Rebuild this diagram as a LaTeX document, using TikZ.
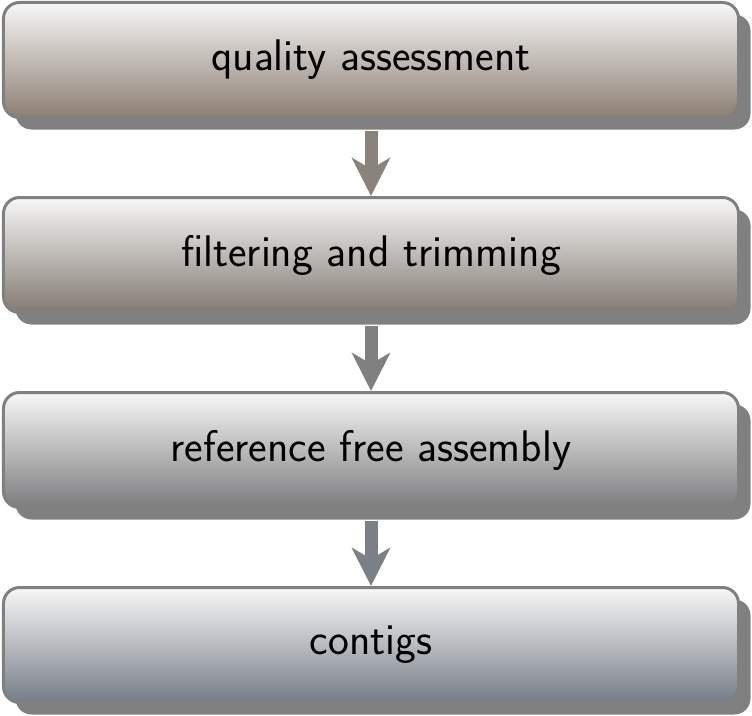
\documentclass[tikz,border=0pt]{standalone}
\usetikzlibrary{shadows,arrows.meta}

\definecolor{stepA}{RGB}{140,126,114}
\definecolor{stepB}{RGB}{130,122,114}
\definecolor{stepC}{RGB}{124,124,126}
\definecolor{stepD}{RGB}{118,125,135}
\definecolor{arrA}{RGB}{138,131,124}
\definecolor{arrB}{RGB}{128,128,128}
\definecolor{arrC}{RGB}{122,128,134}

\begin{document}
\begin{tikzpicture}[
    stagebox/.style={draw=black!50, line width=0.06cm, rounded corners=0.32cm,
      minimum width=14.7cm, minimum height=2.3cm, top color=white!97!black,
      font=\fontsize{25.2}{30}\selectfont\sffamily,
      drop shadow={shadow xshift=0.24cm, shadow yshift=-0.24cm, fill=black!50, opacity=1}},
    flow/.style={line width=0.26cm, -{Stealth[length=0.76cm, width=0.76cm, inset=0.22cm]}}]

\useasboundingbox (0,0) rectangle (15.04,-14.32);

% Stages
\node[stagebox, bottom color=stepA] (qa)  at (7.42,-1.2)  {quality assessment};
\node[stagebox, bottom color=stepB] (ft)  at (7.42,-5.1)  {filtering and trimming};
\node[stagebox, bottom color=stepC] (rfa) at (7.42,-9.0)  {reference free assembly};
\node[stagebox, bottom color=stepD] (ctg) at (7.42,-12.9) {contigs};

% Arrows between stages
\foreach \a/\b/\c in {qa/ft/arrA, ft/rfa/arrB, rfa/ctg/arrC}
  \draw[flow, \c] ([yshift=-0.24cm]\a.south) -- (\b.north);

\end{tikzpicture}
\end{document}
